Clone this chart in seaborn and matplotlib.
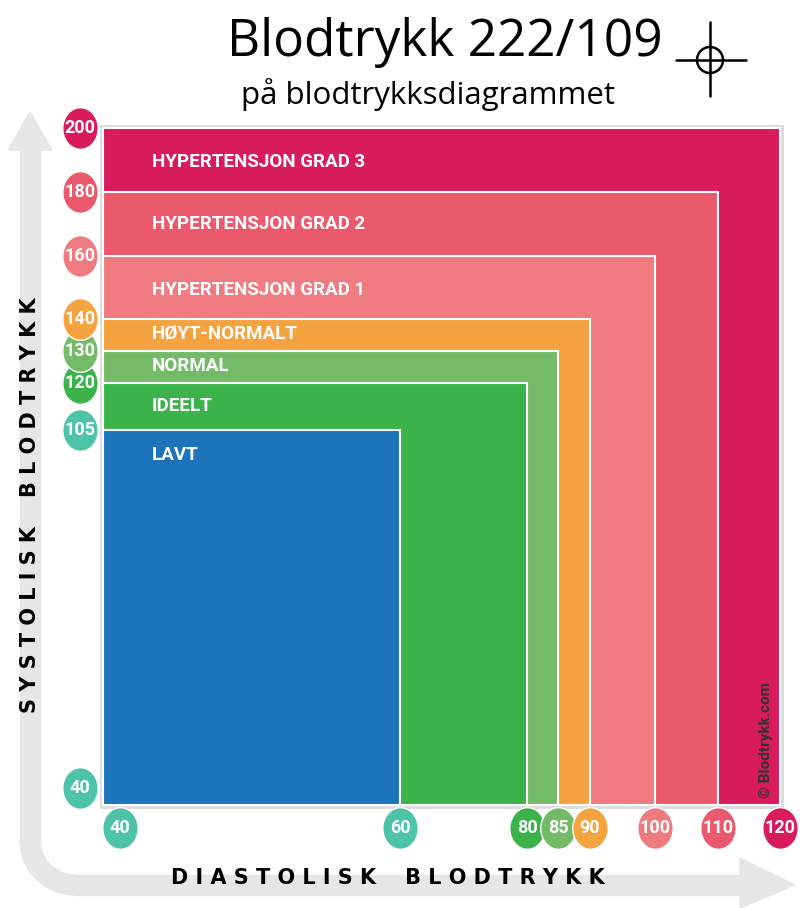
import numpy as np
import matplotlib
matplotlib.use("Agg")
import matplotlib.pyplot as plt
import matplotlib.patches as mpatches
import matplotlib.transforms as mtransforms
import seaborn as sns

sns.set_theme(style="white")
plt.rcParams['font.family'] = ['Roboto', 'DejaVu Sans']
plt.rcParams['text.color'] = 'black'

# data
categories = ["HYPERTENSJON GRAD 3", "HYPERTENSJON GRAD 2", "HYPERTENSJON GRAD 1",
              "HØYT-NORMALT", "NORMAL", "IDEELT", "LAVT"]
diastolic = [120, 110, 100, 90, 85, 80, 60]
systolic = [200, 180, 160, 140, 130, 120, 105]
colors = ["#d81b5a", "#ea5a6c", "#ef7a80", "#f5a340", "#74bb67", "#3bb34a", "#1c74bb"]
x_ticks = [40, 60, 80, 85, 90, 100, 110, 120]
x_tick_colors = ["#4dc4a8", "#4dc4a8", "#3bb34a", "#74bb67", "#f5a340", "#ef7a80", "#ea5a6c", "#d81b5a"]
y_ticks = [40, 105, 120, 130, 140, 160, 180, 200]
y_tick_colors = ["#4dc4a8", "#4dc4a8", "#3bb34a", "#74bb67", "#f5a340", "#ef7a80", "#ea5a6c", "#d81b5a"]
label_drop = [34, 32, 34, 15, 15, 23, 25]  # px below top edge

# pixel positions of the ticks (the chart's scale is not linear)
x_px = [103, 400, 527, 558, 590, 655, 718, 780]
y_px = [805, 430, 383, 351, 319, 256, 192, 128]
x_badge_shift = [17, 0, 0, 0, 0, 0, 0, 0]
y_badge_shift = [17, 0, 0, 0, 0, 0, 0, 0]

W, H = 800, 908
fig = plt.figure(figsize=(8, 9.08), dpi=100)

# background layer in pixel coordinates for arrows and title decoration
bg = fig.add_axes([0, 0, 1, 1])
bg.set_xlim(0, W)
bg.set_ylim(H, 0)
bg.axis("off")
grey = "#e6e6e6"
bg.add_patch(mpatches.Polygon([[20, 140], [40, 140], [40, 840], [20, 840]], color=grey))
bg.add_patch(mpatches.Polygon([[8, 150], [30, 112], [52, 150]], color=grey))
bg.add_patch(mpatches.Wedge((75, 840), 55, 90, 180, width=20, color=grey))
bg.add_patch(mpatches.Polygon([[75, 875], [750, 875], [750, 895], [75, 895]], color=grey))
bg.add_patch(mpatches.Polygon([[740, 858], [795, 885], [740, 908]], color=grey))
bg.add_patch(mpatches.Circle((710, 60), 13, fill=False, lw=1.8, color="black"))
bg.plot([676, 746], [60, 60], color="black", lw=1.8)
bg.plot([710, 710], [22, 96], color="black", lw=1.8)

fig.text(445 / W, 1 - 42 / H, "Blodtrykk 222/109", fontsize=37, ha="center", va="center",
         family="Open Sans")
fig.text(428 / W, 1 - 95 / H, "på blodtrykksdiagrammet", fontsize=22.5, ha="center", va="center",
         family="Open Sans")
fig.text(30 / W, 1 - 505 / H, "S Y S T O L I S K    B L O D T R Y K K", rotation=90,
         fontsize=15, fontweight="bold", ha="center", va="center", family="DejaVu Sans")
fig.text(388 / W, 1 - 878 / H, "D I A S T O L I S K    B L O D T R Y K K",
         fontsize=15, fontweight="bold", ha="center", va="center", family="DejaVu Sans")

x_fwd = lambda v: np.interp(v, x_ticks, x_px)
x_inv = lambda p: np.interp(p, x_px, x_ticks)
neg_y = [-p for p in y_px]
y_fwd = lambda v: np.interp(v, y_ticks, neg_y)
y_inv = lambda p: np.interp(p, neg_y, y_ticks)

ax = fig.add_axes([103 / W, (H - 805) / H, 677 / W, 677 / H])
ax.set_xscale("function", functions=(x_fwd, x_inv))
ax.set_yscale("function", functions=(y_fwd, y_inv))
ax.set_xlim(40, 120)
ax.set_ylim(40, 200)
ax.axis("off")

# shadow
ax.add_patch(mpatches.Rectangle((40, 40), 80, 160, facecolor="none", edgecolor="#999999",
                                lw=5, alpha=0.35, zorder=0, clip_on=False))
trans = mtransforms.blended_transform_factory(ax.transAxes, ax.transData)
for i, (cat, d, s, c) in enumerate(zip(categories, diastolic, systolic, colors)):
    ax.add_patch(mpatches.Rectangle((40, 40), d - 40, s - 40, facecolor=c,
                                    edgecolor="white", lw=1.5, zorder=i + 1, clip_on=False))
    ax.annotate(cat, xy=(49 / 677, s), xycoords=trans, xytext=(0, -label_drop[i] * 0.72),
                textcoords="offset points", color="white", fontsize=13.5, fontweight="bold",
                ha="left", va="center", zorder=20)

# oval badge marker, a bit taller than wide
t = np.linspace(0, 2 * np.pi, 60)
oval = np.column_stack([0.85 * np.cos(t), np.sin(t)])


def badge(x, y, base, sh, c, label):
    off = base + mtransforms.ScaledTranslation(sh[0] / 100, sh[1] / 100, fig.dpi_scale_trans)
    ax.scatter([x], [y], s=900, c=[c], marker=oval, transform=off, clip_on=False, zorder=30,
               edgecolors="white", linewidths=1)
    ax.text(x, y, label, transform=off, ha="center", va="center", color="white",
            fontsize=13, fontweight="bold", zorder=31, family="Roboto")


tx = mtransforms.blended_transform_factory(ax.transData, ax.transAxes)
for v, c, sh in zip(x_ticks, x_tick_colors, x_badge_shift):
    badge(v, -23 / 677, tx, (sh, 0), c, str(v))
ty = mtransforms.blended_transform_factory(ax.transAxes, ax.transData)
for v, c, sh in zip(y_ticks, y_tick_colors, y_badge_shift):
    badge(-23 / 677, v, ty, (0, sh), c, str(v))

fig.text(766 / W, 1 - 740 / H, "© Blodtrykk.com", rotation=90, fontsize=11,
         fontweight="bold", color="#333333", ha="center", va="center", zorder=50)

fig.savefig("out.png", dpi=100)
